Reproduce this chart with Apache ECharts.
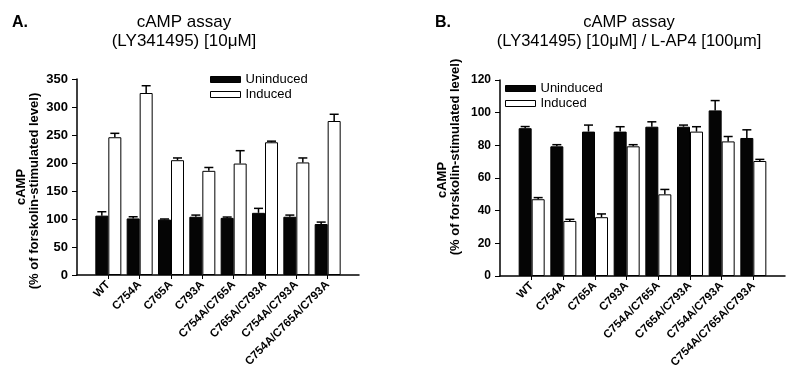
<!DOCTYPE html>
<html>
<head>
<meta charset="utf-8">
<script src="https://cdn.jsdelivr.net/npm/echarts@6/dist/echarts.min.js"></script>
<style>
  html, body { margin: 0; padding: 0; background: #fff; }
  #chart { width: 800px; height: 391px; }
</style>
</head>
<body>
<div id="chart"></div>
<script>
var categories = ['WT', 'C754A', 'C765A', 'C793A', 'C754A/C765A', 'C765A/C793A', 'C754A/C793A', 'C754A/C765A/C793A'];

// panel A: LY341495 10uM
var aUninduced = [106, 101, 99, 104, 102, 111, 104, 91];
var aUninducedErr = [7, 3, 1, 3, 1.5, 8, 3, 3.5];
var aInduced = [246, 325, 205, 186, 199, 237, 201, 275];
var aInducedErr = [7, 13, 4, 6, 23, 2, 8, 12];
var aTicks = [0, 350, 50]; // min, max, step

// panel B: LY341495 10uM / L-AP4 100um
var bUninduced = [90.5, 79.4, 88.4, 88.4, 91.4, 91.4, 101.4, 84.5];
var bUninducedErr = [1, 1, 4, 3, 3, 1, 6, 5];
var bInduced = [47, 33.7, 36, 79.4, 50, 88.4, 82.4, 70.4];
var bInducedErr = [1, 1, 2, 1, 3, 3, 3, 1];
var bTicks = [0, 120, 20];

var FONT = 'Liberation Sans, Arial, sans-serif';
var BAR_W = 13;

function pairs(vals) {
  return vals.map(function (v, i) { return [i, v]; });
}
function triples(vals, errs) {
  return vals.map(function (v, i) { return [i, v, errs[i]]; });
}

// upper error bar only, drawn above the bar top
function errRender(offset) {
  return function (params, api) {
    var x = api.value(0), v = api.value(1), e = api.value(2);
    var p0 = api.coord([x, v]);
    var p1 = api.coord([x, v + e]);
    var cx = p0[0] + offset;
    return {
      type: 'group',
      children: [
        { type: 'line', shape: { x1: cx, y1: p0[1], x2: cx, y2: p1[1] }, style: { stroke: '#000', lineWidth: 1.5 } },
        { type: 'line', shape: { x1: cx - 4.5, y1: p1[1], x2: cx + 4.5, y2: p1[1] }, style: { stroke: '#000', lineWidth: 1.5 } }
      ]
    };
  };
}

var idx = categories.map(function (c, i) { return i; });

function xAxisFor(gi, fs) {
  return {
    type: 'value', gridIndex: gi, min: -1, max: 8, interval: 1,
    splitLine: { show: false },
    axisLine: { onZero: false, lineStyle: { color: '#000', width: 1.5 } },
    axisTick: { customValues: idx, length: 4, lineStyle: { color: '#000', width: 1 } },
    axisLabel: {
      customValues: idx, rotate: 45, margin: 8,
      fontFamily: FONT, fontSize: fs, fontWeight: 'bold', color: '#000',
      formatter: function (v) { return categories[v] || ''; }
    }
  };
}

function yAxisFor(gi, t, fs) {
  return {
    type: 'value', gridIndex: gi, min: t[0], max: t[1], interval: t[2],
    splitLine: { show: false },
    axisLine: { show: true, onZero: false, lineStyle: { color: '#000', width: 1.5 } },
    axisTick: { show: true, length: 5, lineStyle: { color: '#000', width: 1 } },
    axisLabel: { margin: 9, fontFamily: FONT, fontSize: fs, fontWeight: 'bold', color: '#000' }
  };
}

function barSeries(name, gi, vals, white) {
  return {
    name: name, type: 'bar', xAxisIndex: gi, yAxisIndex: gi,
    data: pairs(vals), barWidth: BAR_W, barGap: '0%',
    itemStyle: white ? { color: '#fff', borderColor: '#000', borderWidth: 1 } : { color: '#050505', borderColor: '#000', borderWidth: 1 },
    emphasis: { disabled: true },
    animation: false
  };
}

function errSeries(gi, vals, errs, offset) {
  return {
    type: 'custom', xAxisIndex: gi, yAxisIndex: gi,
    data: triples(vals, errs), renderItem: errRender(offset),
    encode: { x: 0, y: 1 }, z: 3, silent: true, animation: false
  };
}

function legendFor(left, top) {
  return {
    left: left, top: top, orient: 'vertical', itemWidth: 30, itemHeight: 6, itemGap: 2,
    selectedMode: false,
    textStyle: { fontFamily: FONT, fontSize: 13, color: '#000' },
    data: [
      { name: 'Uninduced', icon: 'rect', itemStyle: { color: '#050505', borderColor: '#000', borderWidth: 1 } },
      { name: 'Induced', icon: 'rect', itemStyle: { color: '#fff', borderColor: '#000', borderWidth: 1 } }
    ]
  };
}

function txt(text, x, y, size, bold, rot) {
  return {
    type: 'text', x: x, y: y, rotation: rot ? Math.PI / 2 : 0,
    style: {
      text: text, fill: '#000', align: 'center', verticalAlign: 'middle',
      font: (bold ? 'bold ' : '') + size + 'px ' + FONT, lineHeight: 19
    }
  };
}

var chart = echarts.init(document.getElementById('chart'));
chart.setOption({
  backgroundColor: '#fff',
  animation: false,
  grid: [
    { left: 77, right: 441, top: 79, bottom: 116 },
    { left: 500, right: 15, top: 80, bottom: 115 }
  ],
  xAxis: [xAxisFor(0, 11.5), xAxisFor(1, 11.5)],
  yAxis: [yAxisFor(0, aTicks, 13), yAxisFor(1, bTicks, 12)],
  legend: [legendFor(205, 68), legendFor(500, 77)],
  graphic: [
    txt('A.', 20, 23, 16, true),
    txt('cAMP assay\n(LY341495) [10\u03bcM]', 184, 31.5, 17, false),
    txt('cAMP', 21, 187, 13, true, true),
    txt('(% of forskolin-stimulated level)', 34, 191, 13, true, true),
    txt('B.', 443, 23, 16, true),
    txt('cAMP assay\n(LY341495) [10\u03bcM] / L-AP4 [100\u03bcm]', 629, 31.5, 16.5, false),
    txt('cAMP', 442, 180, 13, true, true),
    txt('(% of forskolin-stimulated level)', 455, 157, 13, true, true)
  ],
  series: [
    barSeries('Uninduced', 0, aUninduced, false),
    barSeries('Induced', 0, aInduced, true),
    errSeries(0, aUninduced, aUninducedErr, -BAR_W / 2),
    errSeries(0, aInduced, aInducedErr, BAR_W / 2),
    barSeries('Uninduced', 1, bUninduced, false),
    barSeries('Induced', 1, bInduced, true),
    errSeries(1, bUninduced, bUninducedErr, -BAR_W / 2),
    errSeries(1, bInduced, bInducedErr, BAR_W / 2)
  ]
});
</script>
</body>
</html>
